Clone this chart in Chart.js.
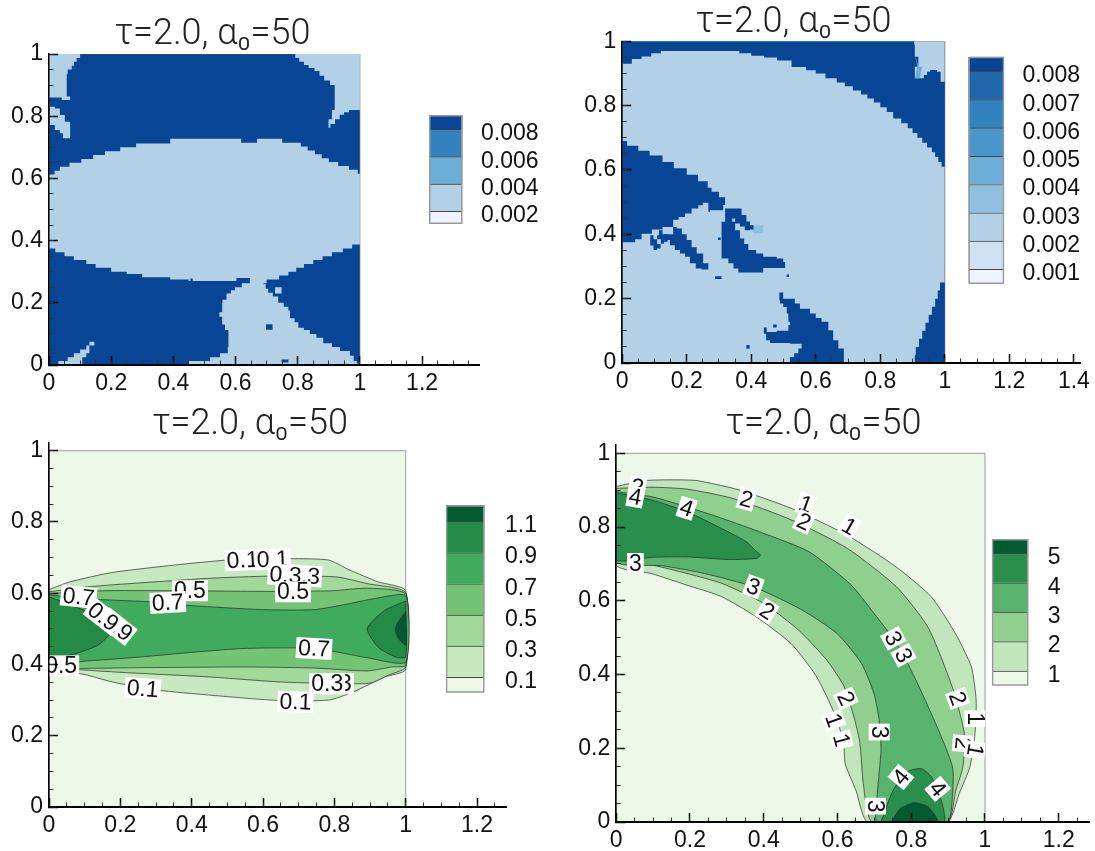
<!DOCTYPE html>
<html><head><meta charset="utf-8">
<script src="https://cdn.jsdelivr.net/npm/chart.js@4"></script>
<style>html,body{margin:0;padding:0;background:#fff;overflow:hidden}canvas{position:absolute}</style>
</head><body>
<script>
// ---------- shared ticks ----------
const titleText = 'τ=2.0, α₀=50';
const yTickValues = [0,0.2,0.4,0.6,0.8,1];
const yTickLabels = ['0','0.2','0.4','0.6','0.8','1'];
const xTickValues = [0,0.2,0.4,0.6,0.8,1,1.2];
const xTickLabels = ['0','0.2','0.4','0.6','0.8','1','1.2'];
const xTickValuesB = [0,0.2,0.4,0.6,0.8,1,1.2,1.4];
const xTickLabelsB = ['0','0.2','0.4','0.6','0.8','1','1.2','1.4'];
const minorTicks = [0,0.05,0.1,0.15,0.2,0.25,0.3,0.35,0.4,0.45,0.5,0.55,0.6,0.65,0.7,0.75,0.8,0.85,0.9,0.95,1,1.05,1.1,1.15,1.2,1.25,1.3,1.35,1.4];

// ---------- panel A regions ----------
const aCornerTL = [[0,1],[0.107,1],[0.1,0.9875],[0.089,0.975],[0.08,0.9625],[0.073,0.95],[0.06,0.935],[0.057,0.863],[0.068,0.863],[0.068,0.852],[0.046,0.852],[0.041,0.86],[0.006,0.86],[0,0.86]];
const aSliver = [[0.003,0.83],[0.019,0.825],[0.035,0.804],[0.051,0.782],[0.068,0.756],[0.068,0.729],[0.057,0.729],[0.045,0.745],[0.035,0.756],[0.019,0.772],[0.003,0.782]];
const aCornerTR = [[0.792,1],[1,1],[1,0.82],[0.983,0.82],[0.965,0.8125],[0.949,0.805],[0.935,0.79],[0.92,0.775],[0.905,0.7625],[0.899,0.76],[0.899,0.79],[0.91,0.82],[0.919,0.85],[0.919,0.9],[0.904,0.915],[0.885,0.93],[0.87,0.945],[0.854,0.955],[0.835,0.965],[0.82,0.975],[0.805,0.9875]];
const aCentre = [[0,0.6125],[0.018,0.625],[0.035,0.6375],[0.066,0.65],[0.104,0.6625],[0.142,0.675],[0.18,0.6875],[0.229,0.7],[0.28,0.7125],[0.39,0.7275],[0.607,0.7275],[0.618,0.715],[0.669,0.7275],[0.75,0.715],[0.81,0.7025],[0.832,0.69],[0.855,0.6775],[0.877,0.665],[0.9,0.6525],[0.93,0.64],[0.965,0.6275],[0.993,0.615],[1,0.6125],[1,0.3875],[0.975,0.375],[0.945,0.3625],[0.91,0.35],[0.88,0.3375],[0.85,0.325],[0.82,0.3125],[0.795,0.3],[0.77,0.2875],[0.74,0.275],[0.7,0.2625],[0.69,0.26],[0.697,0.245],[0.705,0.2325],[0.72,0.22],[0.737,0.2],[0.755,0.1875],[0.77,0.175],[0.775,0.15],[0.79,0.1375],[0.802,0.12],[0.82,0.1125],[0.839,0.1],[0.86,0.0875],[0.882,0.07],[0.91,0.0575],[0.936,0.045],[0.968,0.03],[0.98,0.0125],[0.99,0.005],[1,0],[0.449,0],[0.449,0.0125],[0.518,0.025],[0.55,0.0375],[0.575,0.0575],[0.577,0.1125],[0.566,0.13],[0.557,0.155],[0.548,0.17],[0.557,0.2],[0.558,0.21],[0.571,0.23],[0.585,0.24],[0.598,0.25],[0.62,0.2625],[0.646,0.28],[0.609,0.28],[0.603,0.27],[0.5,0.27],[0.449,0.275],[0.39,0.2825],[0.3,0.2925],[0.25,0.3],[0.2,0.3125],[0.15,0.325],[0.12,0.3375],[0.08,0.35],[0.05,0.3625],[0.02,0.375],[0,0.39]];
const aBottomLeft = [[0.017,0],[0.03,0.0125],[0.06,0.025],[0.08,0.0375],[0.1,0.05],[0.12,0.0625],[0.13,0.075],[0.146,0.08],[0.146,0.0625],[0.13,0.0375],[0.12,0.025],[0.107,0]];
const aLightSpot = [[0.727,0.23],[0.748,0.23],[0.748,0.25],[0.727,0.25]];
const aDarkSpots = [
  [[0.698,0.113],[0.719,0.113],[0.719,0.131],[0.698,0.131]],
  [[0.748,0.008],[0.77,0.008],[0.77,0.018],[0.748,0.018]],
  [[0.455,0.27],[0.462,0.27],[0.462,0.278],[0.455,0.278]]
];

// ---------- panel B regions ----------
const bTop = [[0,1],[0.879,1],[0.905,0.99],[0.907,0.952],[0.918,0.921],[0.907,0.885],[0.923,0.885],[0.935,0.895],[0.945,0.905],[0.954,0.911],[0.976,0.905],[0.987,0.874],[1,0.87],[1,0.61],[0.99,0.625],[0.98,0.64],[0.97,0.655],[0.96,0.67],[0.945,0.685],[0.93,0.7],[0.915,0.715],[0.9,0.73],[0.885,0.745],[0.865,0.76],[0.84,0.78],[0.82,0.795],[0.8,0.81],[0.78,0.822],[0.76,0.835],[0.74,0.847],[0.715,0.86],[0.69,0.872],[0.665,0.885],[0.63,0.9],[0.6,0.91],[0.57,0.92],[0.525,0.94],[0.48,0.95],[0.44,0.955],[0.4,0.9625],[0.363,0.97],[0.152,0.97],[0.12,0.9625],[0.09,0.9525],[0.06,0.945],[0.03,0.93],[0,0.913]];
const bWedge = [[0,0.69],[0.015,0.675],[0.05,0.66],[0.085,0.645],[0.125,0.625],[0.16,0.605],[0.2,0.585],[0.235,0.565],[0.265,0.545],[0.277,0.532],[0.3,0.515],[0.319,0.491],[0.313,0.475],[0.272,0.47],[0.267,0.498],[0.25,0.49],[0.236,0.48],[0.215,0.465],[0.195,0.454],[0.175,0.445],[0.158,0.437],[0.158,0.423],[0.125,0.415],[0.092,0.402],[0.06,0.385],[0.04,0.375],[0,0.37]];
const bStrip = [[0.158,0.423],[0.169,0.418],[0.185,0.4],[0.2,0.382],[0.215,0.36],[0.231,0.34],[0.251,0.31],[0.267,0.291],[0.246,0.294],[0.228,0.31],[0.21,0.33],[0.195,0.34],[0.179,0.351],[0.163,0.366],[0.148,0.382],[0.13,0.4]];
const bStrip2 = [[0.087,0.397],[0.097,0.385],[0.108,0.37],[0.119,0.356],[0.108,0.351],[0.097,0.365],[0.087,0.376]];
const bStrip3 = [[0.114,0.413],[0.125,0.4],[0.141,0.377],[0.13,0.371],[0.12,0.385],[0.108,0.397]];
const bHook = [[0.319,0.48],[0.35,0.48],[0.37,0.46],[0.385,0.44],[0.396,0.428],[0.407,0.415],[0.396,0.413],[0.38,0.424],[0.365,0.434],[0.35,0.449],[0.339,0.46],[0.341,0.439],[0.35,0.413],[0.365,0.387],[0.378,0.37],[0.391,0.351],[0.415,0.34],[0.437,0.33],[0.479,0.325],[0.499,0.314],[0.505,0.295],[0.437,0.294],[0.437,0.281],[0.377,0.281],[0.36,0.294],[0.345,0.31],[0.329,0.325],[0.308,0.345],[0.308,0.382],[0.308,0.439],[0.319,0.45]];
const bBottom = [[0.487,0.219],[0.497,0.219],[0.499,0.2],[0.535,0.185],[0.551,0.169],[0.582,0.154],[0.6,0.14],[0.618,0.128],[0.639,0.102],[0.654,0.071],[0.67,0.045],[0.687,0.003],[0.687,0],[0.518,0],[0.52,0.019],[0.533,0.03],[0.546,0.045],[0.556,0.06],[0.52,0.062],[0.458,0.071],[0.446,0.091],[0.439,0.11],[0.448,0.096],[0.479,0.1],[0.515,0.117],[0.52,0.128],[0.515,0.154],[0.51,0.174],[0.499,0.185],[0.489,0.195]];
const bRight = [[1,0.25],[0.991,0.25],[0.985,0.225],[0.978,0.2],[0.97,0.175],[0.96,0.15],[0.95,0.125],[0.94,0.1],[0.93,0.075],[0.92,0.05],[0.91,0.025],[0.907,0],[1,0]];
const bDots = [
  [[0.288,0.261],[0.308,0.261],[0.308,0.27],[0.288,0.27]],
  [[0.385,0.044],[0.395,0.044],[0.395,0.056],[0.385,0.056]],
  [[0.468,0.11],[0.479,0.11],[0.479,0.12],[0.468,0.12]],
  [[0.297,0.382],[0.305,0.382],[0.305,0.39],[0.297,0.39]],
  [[0.51,0.267],[0.517,0.267],[0.517,0.275],[0.51,0.275]]
];
const bTint = [[0.907,0.96],[0.918,0.921],[0.93,0.921],[0.923,0.885],[0.907,0.885],[0.915,0.921]];
const bTint2 = [[0.396,0.428],[0.437,0.428],[0.437,0.403],[0.407,0.403]];

// ---------- panel C contour levels ----------
const cLevel01 = [[0,0.61],[0.059,0.632],[0.176,0.658],[0.333,0.677],[0.5,0.693],[0.676,0.697],[0.784,0.693],[0.843,0.665],[0.922,0.632],[1,0.607],[1,0.386],[0.941,0.365],[0.853,0.323],[0.784,0.3],[0.627,0.3],[0.451,0.314],[0.304,0.328],[0.186,0.349],[0.108,0.37],[0,0.4]];
const cLevel03 = [[0,0.604],[0.108,0.618],[0.255,0.629],[0.451,0.642],[0.618,0.648],[0.804,0.646],[0.892,0.627],[1,0.601],[1,0.393],[0.951,0.37],[0.902,0.348],[0.833,0.346],[0.647,0.351],[0.451,0.365],[0.255,0.375],[0.108,0.384],[0,0.398]];
const cLevel05 = [[0,0.599],[0.157,0.607],[0.353,0.607],[0.637,0.605],[0.794,0.607],[0.892,0.614],[1,0.597],[1,0.398],[0.961,0.393],[0.892,0.382],[0.745,0.39],[0.549,0.393],[0.255,0.391],[0.078,0.389],[0,0.393]];
const cLevel07 = [[0,0.595],[0.108,0.584],[0.284,0.576],[0.402,0.565],[0.598,0.554],[0.745,0.554],[0.843,0.571],[0.902,0.583],[1,0.592],[1,0.407],[0.892,0.419],[0.745,0.445],[0.549,0.445],[0.412,0.435],[0.255,0.421],[0.108,0.41],[0,0.407]];
const cLevel09L = [[0,0.59],[0.098,0.552],[0.176,0.496],[0.137,0.454],[0.059,0.426],[0,0.421]];
const cLevel09R = [[1,0.578],[0.941,0.552],[0.892,0.501],[0.922,0.449],[0.971,0.421],[1,0.421]];
const cLevel11R = [[1,0.548],[0.976,0.515],[0.971,0.496],[0.98,0.473],[1,0.454]];
const cLabels = [
  ['0.1',0.543,0.693,-3],['0.1',0.627,0.695,-2],
  ['0.3',0.715,0.649,4],['0.3',0.663,0.651,4],
  ['0.5',0.395,0.607,0],['0.5',0.684,0.604,0],
  ['0.7',0.083,0.59,6],['0.7',0.333,0.574,-3],
  ['0.9',0.191,0.506,38],['0.9',0.152,0.534,38],
  ['0.7',0.743,0.445,3],['0.5',0.034,0.396,0],
  ['0.1',0.263,0.332,5],['0.3',0.804,0.346,0],['0.3',0.78,0.346,0],['0.1',0.691,0.295,2]
];

// ---------- panel D contour levels ----------
const dLevel1 = [[0,0.91],[0.078,0.926],[0.153,0.928],[0.219,0.926],[0.332,0.901],[0.474,0.851],[0.626,0.778],[0.759,0.692],[0.854,0.611],[0.92,0.511],[0.963,0.421],[0.976,0.33],[0.973,0.24],[0.959,0.149],[0.93,0.077],[0.898,0],[0.682,0],[0.65,0.086],[0.621,0.158],[0.616,0.222],[0.584,0.312],[0.541,0.398],[0.474,0.484],[0.379,0.557],[0.284,0.612],[0.19,0.643],[0.095,0.674],[0,0.697]];
const dLevel2 = [[0,0.905],[0.097,0.908],[0.191,0.903],[0.315,0.878],[0.476,0.819],[0.627,0.742],[0.76,0.638],[0.845,0.529],[0.911,0.367],[0.944,0.24],[0.94,0.149],[0.921,0.086],[0.898,0],[0.694,0],[0.67,0.104],[0.661,0.213],[0.647,0.276],[0.618,0.367],[0.571,0.439],[0.495,0.52],[0.4,0.593],[0.287,0.647],[0.192,0.674],[0.097,0.697],[0,0.71]];
const dLevel3 = [[0,0.896],[0.097,0.882],[0.191,0.855],[0.286,0.824],[0.4,0.783],[0.523,0.733],[0.637,0.643],[0.713,0.548],[0.751,0.498],[0.779,0.452],[0.817,0.376],[0.874,0.249],[0.912,0.149],[0.912,0.077],[0.898,0],[0.708,0],[0.708,0.077],[0.718,0.195],[0.713,0.276],[0.699,0.348],[0.665,0.43],[0.599,0.511],[0.504,0.575],[0.372,0.638],[0.239,0.674],[0.125,0.695],[0,0.706]];
const dLevel4L = [[0,0.893],[0.097,0.873],[0.191,0.842],[0.286,0.796],[0.353,0.76],[0.381,0.733],[0.391,0.724],[0.381,0.715],[0.305,0.712],[0.191,0.719],[0.097,0.718],[0,0.712]];
const dLevel4B = [[0.718,0],[0.751,0.086],[0.789,0.136],[0.827,0.145],[0.855,0.122],[0.879,0.068],[0.888,0]];
const dLevel5B = [[0.746,0],[0.77,0.036],[0.808,0.052],[0.846,0.041],[0.872,0]];
const dLabels = [
  ['2',0.057,0.908,10],['4',0.052,0.882,10],['4',0.191,0.851,18],['2',0.353,0.875,15],
  ['1',0.514,0.862,20],['2',0.509,0.814,25],['1',0.632,0.801,30],['3',0.052,0.701,0],
  ['3',0.372,0.638,20],['2',0.409,0.572,32],['3',0.751,0.498,62],['3',0.779,0.452,62],
  ['2',0.623,0.335,65],['1',0.59,0.276,70],['1',0.611,0.222,75],['3',0.713,0.244,90],
  ['3',0.703,0.043,90],['4',0.772,0.122,-50],['4',0.872,0.09,50],['2',0.926,0.335,70],
  ['1',0.973,0.28,90],['2',0.94,0.213,95],['1',0.973,0.195,100]
];

// ---------- legends ----------
const legendEdgesA = [0.00107,0.002,0.004,0.006,0.008,0.00905];
const legendColorsA = ['#eff3ff','#b2d1e6','#6baed6','#3182bd','#084594'];
const legendTicksA = [0.002,0.004,0.006,0.008];
const legendLabelsA = ['0.002','0.004','0.006','0.008'];
const legendEdgesB = [0.00048,0.001,0.002,0.003,0.004,0.005,0.006,0.007,0.008,0.00852];
const legendColorsB = ['#eff3ff','#cfe0f1','#b2d1e6','#8fc1de','#6baed6','#4b96c8','#3282bd','#2066ab','#084594'];
const legendTicksB = [0.001,0.002,0.003,0.004,0.005,0.006,0.007,0.008];
const legendLabelsB = ['0.001','0.002','0.003','0.004','0.005','0.006','0.007','0.008'];
const legendEdgesC = [0.0016,0.1,0.3,0.5,0.7,0.9,1.1,1.203];
const legendColorsC = ['#edf8e9','#c7e9c0','#a1d99b','#74c476','#41ab5d','#238b45','#005a32'];
const legendTicksC = [0.1,0.3,0.5,0.7,0.9,1.1];
const legendLabelsC = ['0.1','0.3','0.5','0.7','0.9','1.1'];
const legendEdgesD = [0.5,1,2,3,4,5,5.49];
const legendColorsD = ['#edf8e9','#c2e6bb','#8fd08e','#58b36c','#2a8f4d','#005a32'];
const legendTicksD = [1,2,3,4,5];
const legendLabelsD = ['1','2','3','4','5'];

// ---------- styling ----------
const BLUE_DARK = '#084594', BLUE_LIGHT = '#b2d1e6';
const square = [[0,0],[1,0],[1,1],[0,1]];
const FONT = 'Liberation Sans';
const TITLE_SIZE = 36;
const LABEL_SIZE = 23;

function poly(points, color, border, tension){
  const pts = points.concat([points[0]]).map(p => ({x:p[0], y:p[1]}));
  return {type:'line', data:pts, fill:'shape', backgroundColor:color, borderColor:border||color,
          borderWidth:border?0.7:0, pointRadius:0, tension:tension||0, parsing:false, spanGaps:true};
}
function cells(points, color){
  const d = poly(points, color);
  d.stepped = true;
  return d;
}

const labelPlugin = {
  id:'contourLabels',
  afterDatasetsDraw(chart, args, opts){
    const items = opts.items || [];
    const {ctx, scales:{x,y}} = chart;
    ctx.save();
    ctx.beginPath();
    ctx.rect(x.getPixelForValue(0), y.getPixelForValue(1), x.getPixelForValue(1)-x.getPixelForValue(0), y.getPixelForValue(0)-y.getPixelForValue(1));
    ctx.clip();
    ctx.font = LABEL_SIZE+'px "'+FONT+'"';
    ctx.textAlign='center'; ctx.textBaseline='middle';
    for(const it of items){
      const w = ctx.measureText(it[0]).width + 4;
      ctx.save();
      ctx.translate(x.getPixelForValue(it[1]), y.getPixelForValue(it[2]));
      ctx.rotate(it[3]*Math.PI/180);
      ctx.fillStyle='#fff'; ctx.fillRect(-w/2,-10.5,w,21);
      ctx.fillStyle='#111'; ctx.fillText(it[0],0,1);
      ctx.restore();
    }
    ctx.restore();
  }
};

function addCanvas(l,t,w,h){
  const c=document.createElement('canvas');
  c.width=w;c.height=h;c.style.left=l+'px';c.style.top=t+'px';c.style.width=w+'px';c.style.height=h+'px';
  document.body.appendChild(c);return c;
}

function panel(cfg){
  const half = cfg.right - cfg.titleX;
  const left = Math.round(cfg.titleX - half), width = Math.round(half*2);
  const top = Math.round(cfg.titleY + 2 - TITLE_SIZE/2);
  const axisTop = cfg.y0 - (cfg.y0 - cfg.y1) * cfg.yMax;
  const H = 32;
  const padR = left+width-cfg.xEnd;
  const c = addCanvas(left, top, width, Math.ceil(cfg.y0 + H - top));
  new Chart(c,{
    data:{datasets:cfg.layers.slice().reverse()},
    plugins:[labelPlugin],
    options:{
      responsive:false, animation:false, devicePixelRatio:1,
      layout:{padding:{top:0,left:padR,bottom:0,right:padR}},
      plugins:{legend:{display:false},tooltip:{enabled:false},
        title:{display:true,text:titleText,color:'#222',padding:{top:0,bottom:Math.max(0,axisTop-top-TITLE_SIZE)},
               font:{family:'Roboto',weight:300,size:TITLE_SIZE,lineHeight:1}},
        contourLabels:{items:cfg.labels||[]}},
      scales:{
        x:{type:'linear',min:0,max:cfg.xMax,position:'bottom',
           afterBuildTicks:s=>{s.ticks=cfg.xTicks.map(v=>({value:v}));},
           afterFit:s=>{s.height=H;},
           border:{color:'#000',width:2,z:3},
           grid:{drawOnChartArea:false,drawTicks:true,tickLength:-9,color:'#000',tickColor:'#000',tickWidth:1.5,z:2},
           ticks:{color:'#111',padding:14,maxRotation:0,minRotation:0,autoSkip:false,font:{family:FONT,size:LABEL_SIZE},
                  callback:(v,i)=>cfg.xLabels[i]}},
        xMinor:{type:'linear',min:0,max:cfg.xMax,position:'bottom',weight:-1,
           afterBuildTicks:s=>{s.ticks=cfg.minor.filter(v=>v<=cfg.xMax).map(v=>({value:v}));},
           afterFit:s=>{s.height=0;},
           border:{display:false},
           grid:{drawOnChartArea:false,drawTicks:true,tickLength:-4.5,color:'#333',tickColor:'#333',tickWidth:1,z:2},
           ticks:{display:false,autoSkip:false,maxRotation:0}},
        y:{type:'linear',min:0,max:cfg.yMax,position:'left',
           afterBuildTicks:s=>{s.ticks=yTickValues.map(v=>({value:v}));},
           afterFit:s=>{s.width=cfg.x0-left-padR;},
           border:{color:'#000',width:1.5,z:3},
           grid:{drawOnChartArea:false,drawTicks:true,tickLength:-9,color:'#000',tickColor:'#000',tickWidth:1.5,z:2},
           ticks:{color:'#111',padding:15,autoSkip:false,font:{family:FONT,size:LABEL_SIZE},
                  callback:(v,i)=>yTickLabels[i]}},
        yMinor:{type:'linear',min:0,max:cfg.yMax,position:'left',weight:-1,
           afterBuildTicks:s=>{s.ticks=cfg.minor.filter(v=>v<=1).map(v=>({value:v}));},
           afterFit:s=>{s.width=0;},
           border:{display:false},
           grid:{drawOnChartArea:false,drawTicks:true,tickLength:-4.5,color:'#333',tickColor:'#333',tickWidth:1,z:2},
           ticks:{display:false,autoSkip:false}}
      }
    }
  });
}

function legend(cfg){
  const pad=40, labelW=cfg.canvasW-(cfg.bandRight-cfg.bandLeft);
  const left=Math.floor(cfg.bandLeft), top=Math.round(cfg.bandTop-pad);
  const c=addCanvas(left,top,cfg.canvasW,Math.ceil(cfg.bandBottom-top+pad));
  const n=cfg.edges.length;
  const ds=cfg.colors.map((col,i)=>({type:'bar',data:[[cfg.edges[i],cfg.edges[i+1]]],backgroundColor:col,
    borderColor:'#444',borderWidth:{top:1,bottom:0,left:0,right:0},barPercentage:1,categoryPercentage:1,grouped:false,borderSkipped:false}));
  ds.unshift({type:'bar',data:[[cfg.edges[0],cfg.edges[n-1]]],backgroundColor:'rgba(0,0,0,0)',borderColor:'#999',borderWidth:1.2,
    barPercentage:1,categoryPercentage:1,grouped:false,borderSkipped:false,order:-1});
  new Chart(c,{
    data:{labels:['levels'],datasets:ds},
    options:{responsive:false,animation:false,devicePixelRatio:1,
      layout:{padding:{top:cfg.bandTop-top,bottom:c.height-(cfg.bandBottom-top),left:cfg.bandLeft-left,right:0}},
      plugins:{legend:{display:false},tooltip:{enabled:false},title:{display:false}},
      scales:{
        x:{type:'category',display:false,offset:true},
        y:{type:'linear',position:'right',min:cfg.edges[0],max:cfg.edges[n-1],
           afterBuildTicks:s=>{s.ticks=cfg.ticks.map(v=>({value:v}));},
           afterFit:s=>{s.width=labelW-(cfg.bandLeft-left);},
           border:{display:false},grid:{display:false,drawTicks:false},
           ticks:{color:'#111',padding:cfg.labelX-cfg.bandRight,labelOffset:4.5,autoSkip:false,font:{family:FONT,size:LABEL_SIZE},
                  callback:(v,i)=>cfg.labels[i]}}
      }
    }
  });
}

// Panel A
panel({x0:49,xEnd:479,xMax:1.383,y0:365,y1:54,yMax:1,titleX:212.6,titleY:33.3,right:520,
  xTicks:xTickValues,xLabels:xTickLabels,minor:minorTicks,
  layers:[poly(square,BLUE_DARK,'#666'),cells(aCornerTL,BLUE_LIGHT),cells(aSliver,BLUE_LIGHT),cells(aCornerTR,BLUE_LIGHT),
    cells(aCentre,BLUE_LIGHT),cells(aBottomLeft,BLUE_LIGHT),poly(aLightSpot,BLUE_LIGHT)]
    .concat(aDarkSpots.map(p=>poly(p,BLUE_DARK)))});
// Panel B
panel({x0:622.2,xEnd:1080,xMax:1.419,y0:362.7,y1:41.3,yMax:1,titleX:793.5,titleY:20.7,right:1140,
  xTicks:xTickValuesB,xLabels:xTickLabelsB,minor:minorTicks,
  layers:[poly(square,BLUE_LIGHT,'#666'),poly(bTint2,'#8fc1de'),cells(bTop,BLUE_DARK),poly(bTint,'#6baed6'),cells(bWedge,BLUE_DARK),cells(bStrip,BLUE_DARK),
    cells(bStrip2,BLUE_DARK),cells(bStrip3,BLUE_DARK),cells(bHook,BLUE_DARK),cells(bBottom,BLUE_DARK),cells(bRight,BLUE_DARK)]
    .concat(bDots.map(p=>poly(p,BLUE_DARK)))});
// Panel C
const LINE='#2a2a2a';
panel({x0:49,xEnd:506.3,xMax:1.282,y0:806.7,y1:450.7,yMax:1.021,titleX:250,titleY:423.3,right:525,
  xTicks:xTickValues,xLabels:xTickLabels,minor:minorTicks,labels:cLabels,
  layers:[poly(square,'#edf8e9','#777'),poly(cLevel01,'#c7e9c0',LINE,0.2),poly(cLevel03,'#a1d99b',LINE,0.2),poly(cLevel05,'#74c476',LINE,0.2),
    poly(cLevel07,'#41ab5d',LINE,0.2),poly(cLevel09L,'#238b45',LINE,0.2),poly(cLevel09R,'#238b45',LINE,0.2),poly(cLevel11R,'#005a32',LINE,0.2)]});
// Panel D
panel({x0:616.2,xEnd:1089,xMax:1.282,y0:821.7,y1:453.3,yMax:1.0225,titleX:823.6,titleY:423,right:1140,
  xTicks:xTickValues,xLabels:xTickLabels,minor:minorTicks,labels:dLabels,
  layers:[poly(square,'#edf8e9','#777'),poly(dLevel1,'#c2e6bb',LINE,0.2),poly(dLevel2,'#8fd08e',LINE,0.2),poly(dLevel3,'#58b36c',LINE,0.2),
    poly(dLevel4L,'#2a8f4d',LINE,0.2),poly(dLevel4B,'#2a8f4d',LINE,0.2),poly(dLevel5B,'#005a32',LINE,0.2)]});

legend({bandLeft:429,bandRight:462.6,bandTop:115,bandBottom:224,canvasW:114,labelX:481,edges:legendEdgesA,colors:legendColorsA,ticks:legendTicksA,labels:legendLabelsA});
legend({bandLeft:968.3,bandRight:1004.3,bandTop:56.7,bandBottom:284,canvasW:120,labelX:1022.5,edges:legendEdgesB,colors:legendColorsB,ticks:legendTicksB,labels:legendLabelsB});
legend({bandLeft:445.8,bandRight:484.6,bandTop:505.3,bandBottom:692.7,canvasW:100,labelX:505,edges:legendEdgesC,colors:legendColorsC,ticks:legendTicksC,labels:legendLabelsC});
legend({bandLeft:991.8,bandRight:1028.5,bandTop:539,bandBottom:685.7,canvasW:90,labelX:1047.7,edges:legendEdgesD,colors:legendColorsD,ticks:legendTicksD,labels:legendLabelsD});
</script>
</body></html>
